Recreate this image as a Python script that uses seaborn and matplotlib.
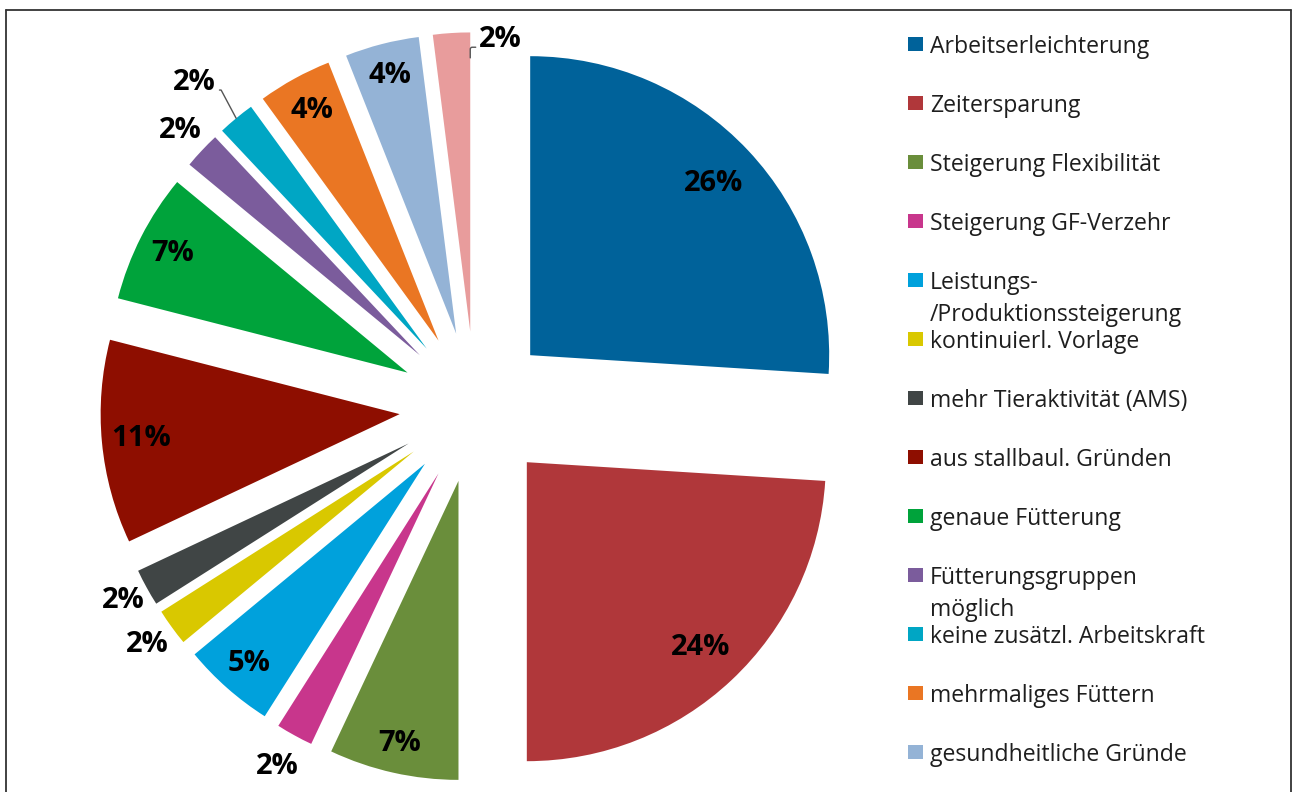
import matplotlib
matplotlib.use("Agg")
import matplotlib.pyplot as plt
import seaborn as sns
import numpy as np
from matplotlib.patches import Rectangle
from matplotlib.lines import Line2D

# ---------------- data ----------------
categories = [
    "Arbeitserleichterung",
    "Zeitersparung",
    "Steigerung Flexibilität",
    "Steigerung GF-Verzehr",
    "Leistungs-\n/Produktionssteigerung",
    "kontinuierl. Vorlage",
    "mehr Tieraktivität (AMS)",
    "aus stallbaul. Gründen",
    "genaue Fütterung",
    "Fütterungsgruppen\nmöglich",
    "keine zusätzl. Arbeitskraft",
    "mehrmaliges Füttern",
    "gesundheitliche Gründe",
    "Sonstiges",
]
values = [26, 24, 7, 2, 5, 2, 2, 11, 7, 2, 2, 4, 4, 2]
value_labels = ["26%", "24%", "7%", "2%", "5%", "2%", "2%", "11%", "7%", "2%", "2%", "4%", "4%", "2%"]
colors = [
    "#00629A", "#B0373A", "#6A8E3B", "#C8368C", "#00A1DC", "#D9C800", "#404545",
    "#8E0E00", "#00A33B", "#7B5C9C", "#00A6C4", "#EA7623", "#94B3D6", "#E89C9C",
]

# ---------------- style ----------------
sns.set_theme(style="white")
plt.rcParams["font.family"] = ["Open Sans", "DejaVu Sans"]

W, H = 1292, 792
fig = plt.figure(figsize=(W / 100, H / 100), dpi=100)
ax = fig.add_axes([0, 0, 1, 1])

palette = sns.color_palette(colors)
R = 299
wedges, _ = ax.pie(values, colors=palette, radius=R, center=(475, H - 407),
                   startangle=90, counterclock=False,
                   explode=[75.7] * len(values),
                   wedgeprops=dict(linewidth=0))
ax.set_xlim(0, W)
ax.set_ylim(0, H)
ax.set_aspect("auto")
ax.axis("off")

# label placement: (distance factor, angle offset in degrees)
place = [(0.84, 0), (0.85, 0), (0.90, 0), (1.12, 0), (0.89, 0), (1.10, 0), (1.09, 0),
         (0.87, 0), (0.88, 0), (1.10, 0), (1.18, 1.5), (0.88, 0), (0.89, 0), (0.98, -9.5)]
lab_font = dict(fontsize=21, fontweight="bold", color="black", ha="center", va="center")
for i, (w, lab) in enumerate(zip(wedges, value_labels)):
    cx, cy = w.center
    mid = 0.5 * (w.theta1 + w.theta2)
    d, off = place[i]
    a = np.deg2rad(mid + off)
    tx, ty = cx + d * R * np.cos(a), cy + d * R * np.sin(a)
    if i == 10:
        am = np.deg2rad(mid)
        ax.annotate(lab, xy=(cx + R * np.cos(am), cy + R * np.sin(am)), xytext=(tx, ty),
                    arrowprops=dict(arrowstyle="-", color="#555555", lw=1.0,
                                    shrinkA=0, shrinkB=0, relpos=(1.0, 0.25),
                                    connectionstyle="angle,angleA=0,angleB=118,rad=0"),
                    **lab_font)
    elif i == 13:
        ae = np.deg2rad(max(w.theta1, w.theta2) if abs(max(w.theta1, w.theta2) - 90) < 1 else min(w.theta1, w.theta2))
        ax.annotate(lab, xy=(cx + 0.915 * R * np.cos(ae), cy + 0.915 * R * np.sin(ae)), xytext=(tx, ty),
                    arrowprops=dict(arrowstyle="-", color="#555555", lw=1.0,
                                    shrinkA=0, shrinkB=0, relpos=(0.0, 0.25),
                                    connectionstyle="angle,angleA=0,angleB=90,rad=2"),
                    **lab_font)
    else:
        ax.text(tx, ty, lab, **lab_font)

# ---------------- legend (manual, fixed row pitch) ----------------
for i, (name, col) in enumerate(zip(categories[:13], palette[:13])):
    yc = H - (44 + 59 * i)
    ax.add_patch(Rectangle((908, yc - 7), 14.5, 14.5, facecolor=col, edgecolor="none"))
    for k, line in enumerate(name.split("\n")):
        ax.text(930, yc - 32 * k, line, fontsize=16.6, color="#1e1e1e",
                ha="left", va="center_baseline")

# ---------------- frame ----------------
fc = "#333333"
ax.add_line(Line2D([6, 1291], [H - 10, H - 10], color=fc, lw=1.3))
ax.add_line(Line2D([6, 6], [H - 10, -5], color=fc, lw=1.3))
ax.add_line(Line2D([1291, 1291], [H - 10, -5], color=fc, lw=1.3))

fig.savefig("out.png", dpi=100, facecolor="white")
